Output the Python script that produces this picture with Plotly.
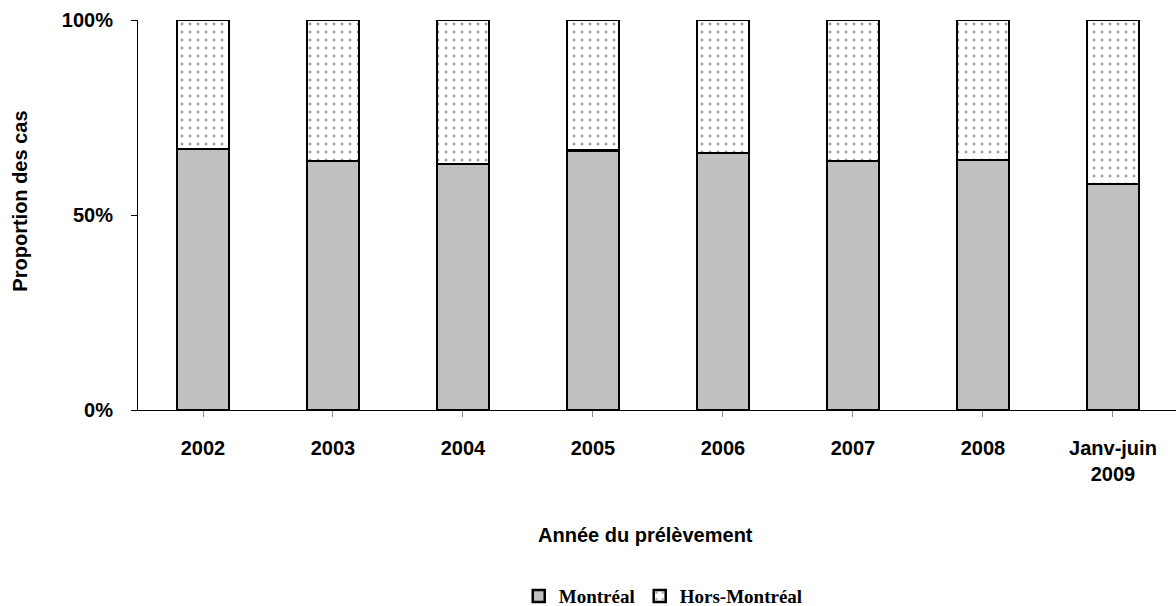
import plotly.graph_objects as go

categories = ["2002", "2003", "2004", "2005", "2006", "2007", "2008", "Janv-juin<br>2009"]
montreal = [66.9, 63.9, 63.1, 66.5, 65.9, 63.9, 64.1, 57.9]
hors_montreal = [round(100 - v, 1) for v in montreal]
y_ticks = [0, 50, 100]
y_tick_labels = ["0%", "50%", "100%"]

x_idx = list(range(len(categories)))

fig = go.Figure()
fig.add_trace(go.Bar(
    x=x_idx, y=montreal, name="Montréal", width=0.4,
    marker=dict(color="#C0C0C0", line=dict(color="black", width=2.5)),
))
fig.add_trace(go.Bar(
    x=x_idx, y=hors_montreal, name="Hors-Montréal", width=0.4,
    marker=dict(color="white", line=dict(color="black", width=2.5),
                pattern=dict(shape=".", bgcolor="white", fgcolor="#333333",
                             size=8, solidity=0.1)),
))

fig.update_layout(
    barmode="stack",
    width=1176, height=606,
    margin=dict(l=138, r=0, t=20, b=196, autoexpand=False),
    plot_bgcolor="white", paper_bgcolor="white",
    font=dict(family="Liberation Sans, Arial, sans-serif", size=20, color="black"),
    showlegend=True,
    legend=dict(orientation="h", x=0.506, xanchor="center", y=-0.477, yanchor="middle",
                font=dict(family="Liberation Serif, Times New Roman, serif", size=19,
                          color="black", weight="bold"),
                traceorder="normal"),
    annotations=[
        dict(text="<b>Année du prélèvement</b>", x=0.489, y=-0.3205, xref="paper", yref="paper",
             showarrow=False, font=dict(size=20), xanchor="center", yanchor="middle"),
        dict(text="<b>Proportion des cas</b>", x=-0.114, y=0.536, xref="paper", yref="paper",
             showarrow=False, font=dict(size=20), textangle=-90, xanchor="center", yanchor="middle"),
    ],
)

fig.update_xaxes(
    range=[-0.5, 7.485], tickmode="array", tickvals=x_idx, ticktext=categories,
    tickson="boundaries", ticks="outside", ticklen=6, tickcolor="#888888", tickwidth=1,
    showline=True, linecolor="black", linewidth=1, showgrid=False, zeroline=False,
    tickfont=dict(size=20, weight="bold"), ticklabelstandoff=14,
)
fig.update_yaxes(
    range=[0, 100], tickmode="array", tickvals=y_ticks, ticktext=y_tick_labels,
    ticks="outside", ticklen=6, tickcolor="black", tickwidth=1,
    showline=True, linecolor="black", linewidth=1, showgrid=False, zeroline=False,
    tickfont=dict(size=20, weight="bold"), ticklabelstandoff=14,
)

fig.write_html("out.html")
